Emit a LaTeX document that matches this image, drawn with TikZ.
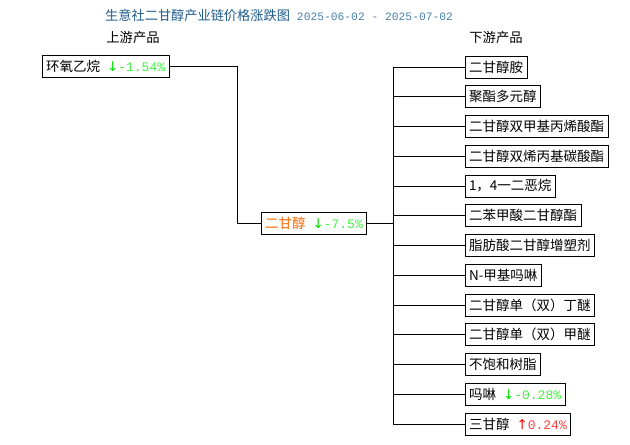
\documentclass[tikz,border=0pt]{standalone}
\usepackage{fontspec}
\setmainfont{Noto Sans CJK SC}
\newfontfamily\pctfont{Liberation Mono}
\newfontfamily\arrowfont{DejaVu Sans}
\usetikzlibrary{positioning}
\definecolor{titleblue}{HTML}{1F5C8B}
\definecolor{dateblue}{HTML}{4A80AA}
\definecolor{downgreen}{HTML}{00DD00}
\definecolor{pctgreen}{HTML}{40F040}
\definecolor{upred}{HTML}{FF0000}
\definecolor{pctred}{HTML}{FF4040}
\definecolor{mainorange}{HTML}{FF6600}
\newcommand{\pricedown}[1]{\hspace{7pt}{\color{downgreen}\arrowfont ↓}{\color{pctgreen}\pctfont\fontsize{13}{15}\selectfont #1}}
\newcommand{\priceup}[1]{\hspace{7pt}{\color{upred}\arrowfont ↑}{\color{pctred}\pctfont\fontsize{13}{15}\selectfont #1}}
\tikzset{
 prodbox/.style={draw, line width=1pt, anchor=west, inner xsep=4pt, inner ysep=0pt,
   minimum height=22pt, outer sep=0pt, font=\fontsize{13.5}{15}\selectfont},
 link/.style={line width=1pt}
}

\begin{document}
\begin{tikzpicture}[x=1pt,y=-1pt]
\useasboundingbox (0,0) rectangle (630,445);
% title and headings
\node[anchor=west, inner sep=0pt, text=titleblue, font=\fontsize{13.2}{15}\selectfont] (title) at (105,15)
 {生意社二甘醇产业链价格涨跌图\hspace{7pt}{\color{dateblue}\pctfont\fontsize{11.3}{13}\selectfont 2025-06-02 - 2025-07-02}};
\node[font=\fontsize{13.3}{15}\selectfont] (uphead) at (133,37) {上游产品};
\node[font=\fontsize{13.3}{15}\selectfont] (downhead) at (496,37) {下游产品};

% upstream and main product
\node[prodbox] (upst) at (42,66) {环氧乙烷\pricedown{-1.54\%}};
\node[prodbox, text=mainorange] (main) at (261,223) {二甘醇\pricedown{-7.5\%}};
\coordinate (split) at (237,0);
\draw[link] (upst.east) -- (upst.east -| split) |- (main.west);

% downstream products
\foreach \name [count=\i] in {二甘醇胺, 聚酯多元醇, 二甘醇双甲基丙烯酸酯, 二甘醇双烯丙基碳酸酯,
  {1，4一二恶烷}, 二苯甲酸二甘醇酯, 脂肪酸二甘醇增塑剂, N-甲基吗啉, 二甘醇单（双）丁醚,
  二甘醇单（双）甲醚, 不饱和树脂, {吗啉\pricedown{-0.28\%}}, {三甘醇\priceup{0.24\%}}} {
 \node[prodbox] (d\i) at (465,{67+(\i-1)*29.75}) {\name};
}
\coordinate (bus) at (393,0);
\draw[link] (main.east) -- (main.east -| bus);
\draw[link] (d1.west -| bus) -- (d13.west -| bus);
\foreach \i in {1,...,13} {
 \draw[link] (d\i.west -| bus) -- (d\i.west);
}
\end{tikzpicture}
\end{document}
